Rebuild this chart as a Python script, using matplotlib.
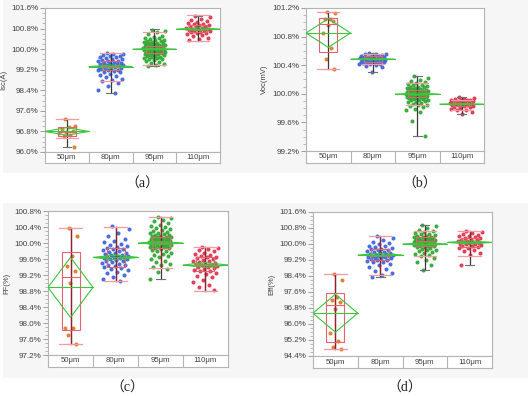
import matplotlib
matplotlib.use("Agg")
import matplotlib.pyplot as plt
from matplotlib.patches import Rectangle, Polygon
from matplotlib.ticker import MultipleLocator, AutoMinorLocator, FuncFormatter

# ---------------- data ----------------
categories = ["50μm", "80μm", "95μm", "110μm"]

# Panel (a) Isc
a_50 = [97.28, 97.02, 96.98, 96.90, 96.82, 96.78, 96.72, 96.66, 96.62, 96.19]
a_80 = [99.85, 99.82, 99.80, 99.78, 99.75, 99.72, 99.70, 99.68, 99.65, 99.62, 99.60, 99.58,
        99.55, 99.53, 99.52, 99.50, 99.48, 99.46, 99.45, 99.43, 99.42, 99.40, 99.38, 99.37,
        99.36, 99.35, 99.34, 99.32, 99.30, 99.28, 99.26, 99.24, 99.22, 99.20, 99.19, 99.17,
        99.15, 99.12, 99.10, 99.05, 99.00, 98.95, 98.90, 98.85, 98.80, 98.75, 98.68, 98.55,
        98.40, 98.28]
a_95 = [100.75, 100.70, 100.65, 100.58, 100.52, 100.48, 100.45, 100.42, 100.40, 100.37, 100.35,
        100.33, 100.31, 100.29, 100.27, 100.25, 100.24, 100.22, 100.21, 100.20, 100.18, 100.17,
        100.16, 100.15, 100.14, 100.13, 100.12, 100.11, 100.10, 100.09, 100.08, 100.07, 100.06,
        100.05, 100.05, 100.04, 100.03, 100.02, 100.02, 100.01, 100.00, 100.00, 99.99, 99.98,
        99.98, 99.97, 99.96, 99.95, 99.95, 99.94, 99.93, 99.92, 99.91, 99.90, 99.89, 99.88,
        99.87, 99.86, 99.85, 99.84, 99.83, 99.82, 99.80, 99.79, 99.77, 99.75, 99.73, 99.71,
        99.69, 99.67, 99.65, 99.62, 99.60, 99.57, 99.54, 99.50, 99.46, 99.42, 99.38, 99.35]
a_110 = [101.30, 101.25, 101.18, 101.12, 101.08, 101.05, 101.02, 100.99, 100.96, 100.94, 100.92,
         100.90, 100.88, 100.86, 100.84, 100.82, 100.80, 100.79, 100.78, 100.76, 100.74, 100.72,
         100.70, 100.68, 100.66, 100.64, 100.62, 100.58, 100.55, 100.50, 100.45, 100.40, 100.35]

# Panel (b) Voc
b_50 = [101.14, 101.13, 101.05, 101.04, 101.02, 100.96, 100.85, 100.64, 100.48, 100.35]
b_80 = [100.57, 100.56, 100.55, 100.55, 100.54, 100.54, 100.53, 100.53, 100.52, 100.52, 100.51,
        100.51, 100.50, 100.50, 100.50, 100.49, 100.49, 100.49, 100.48, 100.48, 100.48, 100.47,
        100.47, 100.47, 100.46, 100.46, 100.46, 100.45, 100.45, 100.44, 100.44, 100.43, 100.43,
        100.42, 100.42, 100.41, 100.40, 100.39, 100.38, 100.30]
b_95 = [100.25, 100.22, 100.20, 100.18, 100.16, 100.15, 100.14, 100.13, 100.12, 100.11, 100.10,
        100.09, 100.09, 100.08, 100.08, 100.07, 100.07, 100.06, 100.06, 100.05, 100.05, 100.05,
        100.04, 100.04, 100.04, 100.03, 100.03, 100.03, 100.02, 100.02, 100.02, 100.01, 100.01,
        100.01, 100.00, 100.00, 100.00, 99.99, 99.99, 99.99, 99.98, 99.98, 99.98, 99.97, 99.97,
        99.97, 99.96, 99.96, 99.96, 99.95, 99.95, 99.95, 99.94, 99.94, 99.93, 99.93, 99.92,
        99.92, 99.91, 99.90, 99.89, 99.88, 99.87, 99.86, 99.85, 99.84, 99.83, 99.81, 99.79,
        99.77, 99.75, 99.62, 99.41]
b_110 = [99.95, 99.94, 99.93, 99.93, 99.92, 99.92, 99.91, 99.91, 99.90, 99.90, 99.89, 99.89,
         99.88, 99.88, 99.87, 99.87, 99.86, 99.86, 99.85, 99.85, 99.84, 99.84, 99.83, 99.83,
         99.82, 99.81, 99.80, 99.79, 99.78, 99.77, 99.75, 99.72]

# Panel (c) FF
c_50 = [100.37, 100.18, 99.68, 99.42, 99.31, 99.00, 97.88, 97.87, 97.70, 97.47]
c_80 = [100.42, 100.35, 100.25, 100.18, 100.10, 100.05, 100.02, 99.98, 99.95, 99.92, 99.90,
        99.88, 99.86, 99.84, 99.82, 99.80, 99.78, 99.76, 99.74, 99.72, 99.70, 99.69, 99.68,
        99.67, 99.66, 99.65, 99.64, 99.63, 99.62, 99.61, 99.60, 99.58, 99.56, 99.54, 99.52,
        99.50, 99.48, 99.46, 99.44, 99.42, 99.40, 99.38, 99.35, 99.32, 99.28, 99.25, 99.20,
        99.15, 99.10, 99.05]
c_95 = [100.65, 100.62, 100.58, 100.55, 100.50, 100.46, 100.42, 100.40, 100.37, 100.35, 100.32,
        100.30, 100.28, 100.26, 100.24, 100.22, 100.20, 100.19, 100.18, 100.17, 100.16, 100.15,
        100.14, 100.13, 100.12, 100.11, 100.10, 100.09, 100.08, 100.07, 100.06, 100.05, 100.04,
        100.04, 100.03, 100.03, 100.02, 100.01, 100.00, 99.99, 99.98, 99.97, 99.96, 99.95,
        99.94, 99.93, 99.92, 99.91, 99.90, 99.89, 99.88, 99.87, 99.85, 99.83, 99.81, 99.79,
        99.76, 99.73, 99.70, 99.67, 99.64, 99.60, 99.56, 99.52, 99.48, 99.44, 99.40, 99.36,
        99.28, 99.10]
c_110 = [99.91, 99.88, 99.85, 99.82, 99.79, 99.76, 99.73, 99.70, 99.68, 99.66, 99.64, 99.62,
         99.60, 99.58, 99.56, 99.54, 99.52, 99.50, 99.48, 99.47, 99.46, 99.45, 99.43, 99.41,
         99.39, 99.37, 99.35, 99.33, 99.31, 99.29, 99.26, 99.22, 99.18, 99.14, 99.08, 99.02,
         98.96, 98.90, 98.82]

# Panel (d) Eff
d_50 = [98.51, 98.21, 97.37, 97.21, 97.09, 96.76, 95.54, 95.17, 94.83, 94.73]
d_80 = [100.40, 100.30, 100.20, 100.12, 100.05, 99.98, 99.92, 99.88, 99.84, 99.80, 99.77,
        99.74, 99.71, 99.68, 99.65, 99.62, 99.59, 99.56, 99.53, 99.50, 99.48, 99.46, 99.44,
        99.42, 99.41, 99.40, 99.38, 99.36, 99.34, 99.32, 99.30, 99.28, 99.25, 99.22, 99.19,
        99.16, 99.12, 99.08, 99.02, 98.95, 98.85, 98.75, 98.65, 98.55, 98.45, 98.35]
d_95 = [100.97, 100.88, 100.78, 100.70, 100.64, 100.60, 100.56, 100.52, 100.48, 100.45, 100.42,
        100.39, 100.36, 100.35, 100.34, 100.32, 100.30, 100.28, 100.26, 100.25, 100.24, 100.22,
        100.21, 100.20, 100.19, 100.18, 100.17, 100.16, 100.15, 100.14, 100.13, 100.13, 100.12,
        100.11, 100.10, 100.09, 100.08, 100.07, 100.06, 100.05, 100.04, 100.02, 100.01, 100.00,
        99.98, 99.97, 99.96, 99.94, 99.93, 99.92, 99.90, 99.88, 99.86, 99.83, 99.80, 99.76,
        99.72, 99.68, 99.64, 99.60, 99.55, 99.50, 99.45, 99.40, 99.32, 99.22, 99.10, 98.95,
        98.72]
d_110 = [100.66, 100.60, 100.55, 100.50, 100.46, 100.42, 100.38, 100.34, 100.31, 100.28, 100.25,
         100.22, 100.19, 100.16, 100.13, 100.10, 100.08, 100.06, 100.04, 100.02, 100.00, 99.98,
         99.95, 99.92, 99.89, 99.86, 99.82, 99.78, 99.72, 99.65, 99.55, 99.45, 98.96]

# Summary statistics, per group (50, 80, 95, 110)
a_q1 = [96.61, 99.19, 99.84, 100.65]; a_med = [96.78, 99.36, 100.00, 100.79]; a_q3 = [96.98, 99.52, 100.14, 100.95]
a_wlo = [96.20, 98.30, 99.35, 100.33]; a_whi = [97.28, 99.85, 100.78, 101.30]
a_plo = [96.55, 98.77, 99.39, 100.30]; a_phi = [97.28, 99.84, 100.65, 101.33]
a_mean = [96.80, 99.32, 100.00, 100.78]; a_ci = [0.15, 0.06, 0.03, 0.05]

b_q1 = [100.59, 100.45, 99.95, 99.83]; b_med = [100.97, 100.48, 100.00, 99.86]; b_q3 = [101.06, 100.53, 100.05, 99.90]
b_wlo = [100.345, 100.30, 99.41, 99.715]; b_whi = [101.14, 100.57, 100.25, 99.95]
b_plo = [100.345, 100.42, 99.845, 99.77]; b_phi = [101.14, 100.55, 100.15, 99.92]
b_mean = [100.85, 100.485, 99.995, 99.855]; b_ci = [0.20, 0.012, 0.015, 0.01]

c_q1 = [97.825, 99.41, 99.87, 99.30]; c_med = [99.14, 99.66, 100.03, 99.47]; c_q3 = [99.78, 99.87, 100.16, 99.64]
c_wlo = [97.475, 99.05, 99.09, 98.81]; c_whi = [100.37, 100.41, 100.64, 99.91]
c_plo = [97.475, 99.05, 99.37, 98.81]; c_phi = [100.37, 100.41, 100.64, 99.91]
c_mean = [98.89, 99.64, 100.00, 99.45]; c_ci = [0.75, 0.06, 0.04, 0.06]

d_q1 = [95.12, 99.18, 99.88, 99.85]; d_med = [96.96, 99.41, 100.13, 100.08]; d_q3 = [97.57, 99.76, 100.33, 100.30]
d_wlo = [94.73, 98.33, 98.71, 98.96]; d_whi = [98.49, 100.38, 100.97, 100.66]
d_plo = [94.73, 98.46, 99.41, 99.41]; d_phi = [98.49, 100.38, 100.63, 100.66]
d_mean = [96.54, 99.45, 100.00, 100.08]; d_ci = [0.95, 0.07, 0.06, 0.08]

y_labels = ["Isc(A)", "Voc(mV)", "FF(%)", "Eff(%)"]
captions = ["（a）", "（b）", "（c）", "（d）"]

# ---------------- style ----------------
W, H = 528, 396
point_colors = ["#e07b2a", "#3f66dc", "#33a833", "#e0364f"]
box_color = "#e8616f"
pink_color = "#f59aa3"
green = "#3ec43e"
whisker_dark = "#3a3a3a"
whisker_red = "#9c1c2e"
frame_col = "#b4b4b4"
text_col = "#404040"
font = "Liberation Sans"

panels = [
    dict(groups=[a_50, a_80, a_95, a_110], q1=a_q1, med=a_med, q3=a_q3, wlo=a_wlo, whi=a_whi,
         plo=a_plo, phi=a_phi, mean=a_mean, ci=a_ci, ylim=(96.0, 101.6), major=0.8,
         box=(45, 8, 220, 152), cat_bottom=163, red_whisk=False, jit50=0.2),
    dict(groups=[b_50, b_80, b_95, b_110], q1=b_q1, med=b_med, q3=b_q3, wlo=b_wlo, whi=b_whi,
         plo=b_plo, phi=b_phi, mean=b_mean, ci=b_ci, ylim=(99.2, 101.2), major=0.4,
         box=(306, 8, 484, 151), cat_bottom=163, red_whisk=False, jit50=0.15),
    dict(groups=[c_50, c_80, c_95, c_110], q1=c_q1, med=c_med, q3=c_q3, wlo=c_wlo, whi=c_whi,
         plo=c_plo, phi=c_phi, mean=c_mean, ci=c_ci, ylim=(97.2, 100.8), major=0.4,
         box=(48, 211, 228, 355), cat_bottom=367, red_whisk=True, jit50=0.15),
    dict(groups=[d_50, d_80, d_95, d_110], q1=d_q1, med=d_med, q3=d_q3, wlo=d_wlo, whi=d_whi,
         plo=d_plo, phi=d_phi, mean=d_mean, ci=d_ci, ylim=(94.4, 101.6), major=0.8,
         box=(313, 212, 492, 356), cat_bottom=368, red_whisk=True, jit50=0.15),
]
caption_pos = [(142, 184), (420, 184), (127, 388), (405, 388)]
group_jitter = [None, 0.30, 0.25, 0.28]

fig = plt.figure(figsize=(W / 100, H / 100), dpi=100)
fig.patch.set_facecolor("white")

# light grey panel backgrounds
for (y0, y1) in [(0, 173), (203, 378)]:
    fig.patches.append(Rectangle((3 / W, 1 - y1 / H), 1 - 3 / W, (y1 - y0) / H,
                                 transform=fig.transFigure, facecolor="#f6f6f6",
                                 edgecolor="none", zorder=-10))


def rect(x0, y0, x1, y1):
    return [x0 / W, 1 - y1 / H, (x1 - x0) / W, (y1 - y0) / H]


for pi, p in enumerate(panels):
    x0, y0, x1, y1 = p["box"]
    ax = fig.add_axes(rect(x0, y0, x1, y1))
    ax.set_zorder(1)
    ax.set_facecolor("white")
    ax.set_xlim(-0.5, 3.5)
    ax.set_ylim(*p["ylim"])
    for s in ax.spines.values():
        s.set_color(frame_col)
        s.set_linewidth(0.8)
    ax.set_xticks([])
    ax.yaxis.set_major_locator(MultipleLocator(p["major"]))
    ax.yaxis.set_minor_locator(AutoMinorLocator(4))
    ax.yaxis.set_major_formatter(FuncFormatter(lambda v, _: f"{v:.1f}%"))
    ax.tick_params(axis="y", which="major", length=3.5, width=0.6, color="#909090",
                   labelsize=5.8, labelcolor=text_col, pad=1.2)
    ax.tick_params(axis="y", which="minor", length=2, width=0.5, color="#a0a0a0")
    for lab in ax.get_yticklabels():
        lab.set_fontfamily(font)
    ax.set_ylabel(y_labels[pi], fontsize=5.5, color=text_col, family=font, labelpad=3)

    for gi, vals in enumerate(p["groups"]):
        jw = p["jit50"] if gi == 0 else group_jitter[gi]
        n = len(vals)
        xs = [gi + (((k * 0.6180339887 + 0.37) % 1.0) - 0.5) * 2 * jw for k in range(n)]
        ax.scatter(xs, vals, s=8.5, color=point_colors[gi], linewidths=0, alpha=0.95, zorder=2)

        # whisker
        ax.plot([gi, gi], [p["wlo"][gi], p["whi"][gi]], color=whisker_dark, lw=0.9, zorder=3)
        if p["red_whisk"]:
            ax.plot([gi, gi], [p["plo"][gi], p["phi"][gi]], color=whisker_red, lw=0.9, zorder=3.1)
        for wv in (p["wlo"][gi], p["whi"][gi]):
            ax.plot([gi - 0.1, gi + 0.1], [wv, wv], color="#707070", lw=0.8, zorder=3)
        # pink quantile lines
        for pv in (p["plo"][gi], p["phi"][gi]):
            ax.plot([gi - 0.25, gi + 0.25], [pv, pv], color=pink_color, lw=0.9, zorder=3.2)
        # box
        bw = 0.2
        ax.add_patch(Rectangle((gi - bw, p["q1"][gi]), 2 * bw, p["q3"][gi] - p["q1"][gi],
                               facecolor="none", edgecolor=box_color, lw=0.8, zorder=3.5))
        ax.plot([gi - bw, gi + bw], [p["med"][gi]] * 2, color=box_color, lw=0.8, zorder=3.5)
        # means diamond
        m, c = p["mean"][gi], p["ci"][gi]
        ax.add_patch(Polygon([(gi - 0.5, m), (gi, m + c), (gi + 0.5, m), (gi, m - c)],
                             closed=True, facecolor="none", edgecolor=green, lw=0.8, zorder=4))
        ax.plot([gi - 0.5, gi + 0.5], [m, m], color=green, lw=0.8, zorder=4)

    # category strip
    cax = fig.add_axes(rect(x0, y1, x1, p["cat_bottom"]))
    cax.set_zorder(1)
    cax.set_xlim(-0.5, 3.5)
    cax.set_ylim(0, 1)
    cax.set_facecolor("white")
    for s in cax.spines.values():
        s.set_color(frame_col)
        s.set_linewidth(0.8)
    cax.set_xticks([])
    cax.set_yticks([])
    for b in (0.5, 1.5, 2.5):
        cax.axvline(b, color=frame_col, lw=0.8)
    for gi, cat in enumerate(categories):
        cax.text(gi, 0.5, cat, ha="center", va="center", fontsize=5.6, color=text_col,
                 family=font)

    cx, cy = caption_pos[pi]
    fig.text(cx / W, 1 - cy / H, captions[pi], ha="center", va="center", fontsize=10,
             color="#222222", family=["Liberation Serif", "Noto Sans CJK SC"])

fig.savefig("out.png", dpi=100, facecolor=fig.get_facecolor())
